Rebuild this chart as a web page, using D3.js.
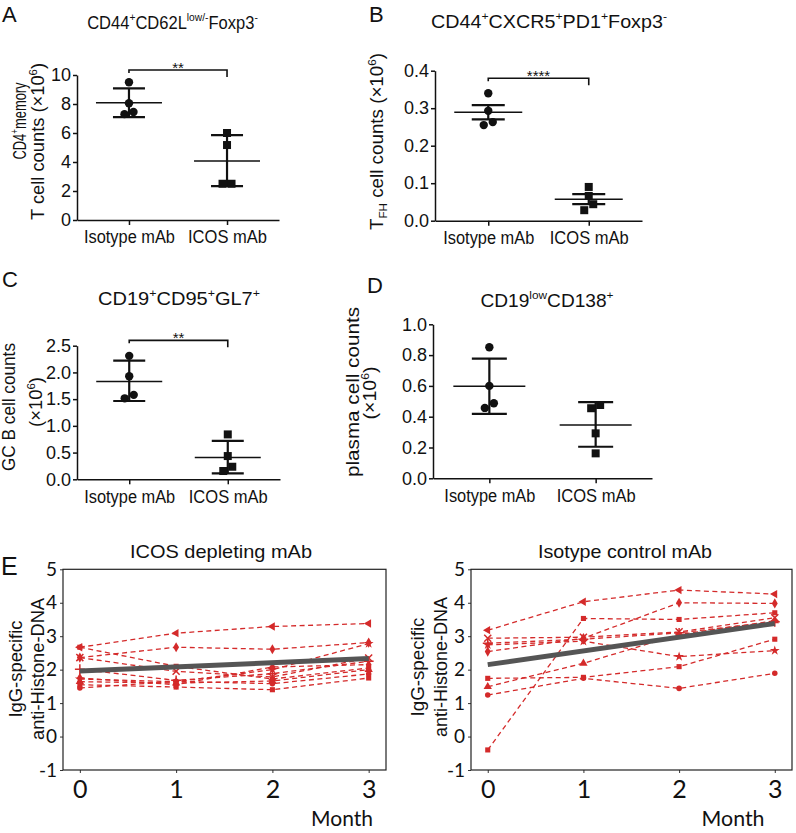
<!DOCTYPE html>
<html><head><meta charset="utf-8">
<script src="https://cdn.jsdelivr.net/npm/d3@7"></script>
<style>html,body{margin:0;padding:0;background:#fff;} svg{display:block;}</style>
</head><body>
<script>
// ---------------- DATA ----------------
const groups = ["Isotype mAb", "ICOS mAb"];

// A: CD44+CD62Llow/-Foxp3- (CD4+ memory T cells, x10^6)
const aIsotype = [9.5, 8.05, 7.3, 7.45];
const aIcos = [6.0, 5.17, 2.5, 2.5];
const aMean = [8.08, 4.07];
const aLow = [7.1, 2.34];
const aHigh = [9.08, 5.86];
const aTicks = [0, 2, 4, 6, 8, 10];

// B: CD44+CXCR5+PD1+Foxp3- (TFH, x10^6)
const bIsotype = [0.340, 0.293, 0.255, 0.263];
const bIcos = [0.090, 0.066, 0.044, 0.028];
const bMean = [0.289, 0.057];
const bLow = [0.270, 0.044];
const bHigh = [0.308, 0.071];
const bTicks = [0, 0.1, 0.2, 0.3, 0.4];

// C: CD19+CD95+GL7+ (GC B cells, x10^6)
const cIsotype = [2.31, 1.93, 1.515, 1.58];
const cIcos = [0.84, 0.435, 0.235, 0.155];
const cMean = [1.83, 0.41];
const cLow = [1.465, 0.11];
const cHigh = [2.22, 0.72];
const cTicks = [0, 0.5, 1.0, 1.5, 2.0, 2.5];

// D: CD19lowCD138+ (plasma cells, x10^6)
const dIsotype = [0.851, 0.60, 0.457, 0.487];
const dIcos = [0.476, 0.455, 0.292, 0.162];
const dMean = [0.597, 0.346];
const dLow = [0.418, 0.205];
const dHigh = [0.777, 0.495];
const dTicks = [0, 0.2, 0.4, 0.6, 0.8, 1.0];

const significance = ["**", "****", "**", ""];
const sigLevel = [10.35, 0.38, 2.6, null];

// E: IgG-specific anti-Histone-DNA over months
const months = [0, 1, 2, 3];
const eTicks = [-1, 0, 1, 2, 3, 4, 5];
const icosDepleting = [
  [2.67, 3.09, 3.29, 3.38],
  [2.36, 2.67, 2.61, 2.81],
  [2.67, 2.10, 1.72, 2.05],
  [2.36, 1.95, 1.78, 2.35],
  [2.01, 1.68, 1.88, 2.25],
  [1.72, 1.64, 2.00, 2.78],
  [1.64, 1.60, 1.66, 2.00],
  [1.55, 1.48, 1.40, 1.75],
  [1.45, 1.65, 1.58, 1.87],
  [1.75, 1.55, 2.08, 2.15]
];
const isotypeControl = [
  [3.18, 4.03, 4.38, 4.26],
  [2.54, 2.94, 4.00, 3.98],
  [-0.40, 3.53, 3.50, 3.70],
  [2.94, 2.97, 3.13, 3.55],
  [2.79, 2.91, 3.10, 3.43],
  [2.74, 2.85, 2.39, 2.57],
  [1.49, 2.19, 3.05, 3.46],
  [1.74, 1.77, 2.09, 2.91],
  [1.24, 1.74, 1.44, 1.89]
];
const trendMonths = [0, 3];
const icosTrend = [1.96, 2.33];
const isotypeTrend = [2.15, 3.38];

// ---------------- DRAWING ----------------
const FONT = "Liberation Sans, Arial, sans-serif";
const EFONT = "Lato, Open Sans, sans-serif";
const INK = "#111";
const RED = "#d42a2a";

const svg = d3.select("body").append("svg").attr("width", 796).attr("height", 833);

function richText(parent, parts, fs) {
  const t = parent.append("text").attr("font-size", fs);
  let shift = 0;
  for (const p of parts) {
    const [s, k] = Array.isArray(p) ? p : [p, null];
    const target = k === "sup" ? -0.4 * fs : (k === "sub" ? 0.22 * fs : 0);
    t.append("tspan").attr("dy", target - shift).attr("font-size", k ? fs * 0.62 : fs).text(s);
    shift = target;
  }
  return t;
}

function label(x, y, parts, opt) {
  let tr = `translate(${x},${y})`;
  if (opt.rotate) tr += " rotate(-90)";
  if (opt.sx) tr += ` scale(${opt.sx},1)`;
  const g = svg.append("g").attr("transform", tr).attr("font-family", opt.family || FONT);
  const t = richText(g, typeof parts === "string" ? [parts] : parts, opt.fs);
  t.attr("text-anchor", opt.anchor || "middle").attr("fill", INK);
  if (opt.len) t.attr("textLength", opt.len).attr("lengthAdjust", "spacingAndGlyphs");
  return t;
}

function offsets(vals, y, gap, half) {
  const idx = vals.map((v, i) => i).sort((a, b) => vals[a] - vals[b]);
  const off = new Array(vals.length).fill(0);
  let cluster = [idx[0]];
  const flush = () => {
    const n = cluster.length;
    cluster.forEach((i, k) => { off[i] = n > 1 ? (k - (n - 1) / 2) * 2 * half : 0; });
  };
  for (let k = 1; k < idx.length; k++) {
    const prev = idx[k - 1], cur = idx[k];
    if (Math.abs(y(vals[cur]) - y(vals[prev])) < gap) cluster.push(cur);
    else { flush(); cluster = [cur]; }
  }
  flush();
  return off;
}

function scatterPanel(p) {
  const y = d3.scaleLinear().domain(p.domain).range([p.bottom, p.top]);
  const x = d3.scalePoint().domain(groups).range([p.left, p.right]).padding(0.53);
  const g = svg.append("g");
  const ya = g.append("g").attr("transform", `translate(${p.left},0)`)
    .call(d3.axisLeft(y).tickValues(p.ticks).tickFormat(p.fmt).tickSize(4).tickSizeOuter(0).tickPadding(2));
  const xa = g.append("g").attr("transform", `translate(0,${p.bottom})`)
    .call(d3.axisBottom(x).tickSize(5).tickSizeOuter(0).tickPadding(6));
  [ya, xa].forEach(a => {
    a.select(".domain").attr("stroke", INK).attr("stroke-width", 1.5);
    a.selectAll(".tick line").attr("stroke", INK).attr("stroke-width", 1.5);
    a.selectAll(".tick text").attr("font-family", FONT).attr("fill", INK);
  });
  ya.selectAll(".tick text").attr("font-size", 18);
  xa.selectAll(".tick text").attr("font-size", 17.5)
    .attr("textLength", d => d === groups[0] ? 91 : 79).attr("lengthAdjust", "spacingAndGlyphs");

  const series = [p.iso, p.icos];
  groups.forEach((gn, i) => {
    const cx = x(gn);
    g.append("line").attr("x1", cx - p.meanHalf).attr("x2", cx + p.meanHalf)
      .attr("y1", y(p.mean[i])).attr("y2", y(p.mean[i])).attr("stroke", INK).attr("stroke-width", 1.5);
    g.append("line").attr("x1", cx).attr("x2", cx).attr("y1", y(p.low[i])).attr("y2", y(p.high[i]))
      .attr("stroke", INK).attr("stroke-width", 2.2);
    [p.low[i], p.high[i]].forEach(v => {
      g.append("line").attr("x1", cx - p.capHalf).attr("x2", cx + p.capHalf)
        .attr("y1", y(v)).attr("y2", y(v)).attr("stroke", INK).attr("stroke-width", 2.2);
    });
    const vals = series[i];
    const off = offsets(vals, y, 8, 4.5);
    vals.forEach((v, j) => {
      if (i === 0) {
        g.append("circle").attr("cx", cx + off[j]).attr("cy", y(v)).attr("r", 4.2).attr("fill", INK);
      } else {
        g.append("rect").attr("x", cx + off[j] - 4).attr("y", y(v) - 4).attr("width", 8).attr("height", 8).attr("fill", INK);
      }
    });
  });

  if (p.sig) {
    const by = y(p.sigLevel);
    const x1 = x(groups[0]), x2 = x(groups[1]);
    g.append("path").attr("d", `M${x1},${by + 3}V${by}H${x2}V${by + 7}`)
      .attr("fill", "none").attr("stroke", INK).attr("stroke-width", 1.6);
    g.append("text").attr("x", (x1 + x2) / 2).attr("y", by + 3).attr("text-anchor", "middle")
      .attr("font-family", FONT).attr("font-size", 15).attr("fill", INK).text(p.sig);
  }
}

scatterPanel({ left: 77, right: 279, top: 75, bottom: 220, domain: [0, 10], ticks: aTicks, fmt: d3.format("d"),
  iso: aIsotype, icos: aIcos, mean: aMean, low: aLow, high: aHigh, sig: significance[0], sigLevel: sigLevel[0],
  meanHalf: 33, capHalf: 16 });
scatterPanel({ left: 435, right: 642, top: 70.7, bottom: 220.7, domain: [0, 0.4], ticks: bTicks, fmt: d3.format(".1f"),
  iso: bIsotype, icos: bIcos, mean: bMean, low: bLow, high: bHigh, sig: significance[1], sigLevel: sigLevel[1],
  meanHalf: 34, capHalf: 16.5 });
scatterPanel({ left: 77, right: 280, top: 345.7, bottom: 479.3, domain: [0, 2.5], ticks: cTicks, fmt: d3.format(".1f"),
  iso: cIsotype, icos: cIcos, mean: cMean, low: cLow, high: cHigh, sig: significance[2], sigLevel: sigLevel[2],
  meanHalf: 33, capHalf: 16 });
scatterPanel({ left: 433, right: 652, top: 324.3, bottom: 478.3, domain: [0, 1.0], ticks: dTicks, fmt: d3.format(".1f"),
  iso: dIsotype, icos: dIcos, mean: dMean, low: dLow, high: dHigh, sig: significance[3], sigLevel: sigLevel[3],
  meanHalf: 36, capHalf: 17.5 });

// titles
label(172.5, 29, ["CD44", ["+", "sup"], "CD62L", ["low/-", "sup"], "Foxp3", ["-", "sup"]], { fs: 19, sx: 0.87 });
label(549, 28, ["CD44", ["+", "sup"], "CXCR5", ["+", "sup"], "PD1", ["+", "sup"], "Foxp3", ["-", "sup"]], { fs: 19, len: 236 });
label(179, 305, ["CD19", ["+", "sup"], "CD95", ["+", "sup"], "GL7", ["+", "sup"]], { fs: 19, len: 162 });
label(547, 307, ["CD19", ["low", "sup"], "CD138", ["+", "sup"]], { fs: 19, len: 133 });

// y labels
label(26, 121, ["CD4", ["+", "sup"], "memory"], { fs: 19, rotate: true, sx: 0.68 });
label(44, 141.5, ["T cell counts (×10", ["6", "sup"], ")"], { fs: 18, rotate: true, len: 157 });
label(383, 141.5, ["T", ["FH", "sub"], " cell counts (×10", ["6", "sup"], ")"], { fs: 18, rotate: true, len: 177 });
label(15, 407, "GC B cell counts", { fs: 18, rotate: true, len: 128 });
label(42, 402, ["(×10", ["6", "sup"], ")"], { fs: 18, rotate: true, len: 50 });
label(359, 392, "plasma cell counts", { fs: 18, rotate: true, len: 170 });
label(376, 393, ["(×10", ["6", "sup"], ")"], { fs: 18, rotate: true, len: 53 });

// panel letters
label(2, 22, "A", { fs: 22, anchor: "start" });
label(369, 22, "B", { fs: 22, anchor: "start" });
label(2, 287, "C", { fs: 22, anchor: "start" });
label(367, 293, "D", { fs: 22, anchor: "start" });
label(1, 575, "E", { fs: 25, anchor: "start" });

// ---------- Panel E ----------
const markerStyles = ["triLeft", "diamond", "square", "times", "plus", "star", "triangle", "square", "circle", "diamond"];
function markerPath(type) {
  const T = d3.symbolTimes || d3.symbolCross, P = d3.symbolPlus || d3.symbolCross;
  switch (type) {
    case "triLeft": case "triangle": return d3.symbol(d3.symbolTriangle, 30)();
    case "diamond": return d3.symbol(d3.symbolDiamond, 30)();
    case "square": return d3.symbol(d3.symbolSquare, 26)();
    case "times": return d3.symbol(T, 34)();
    case "plus": return d3.symbol(P, 34)();
    case "star": return d3.symbol(d3.symbolStar, 30)();
    default: return d3.symbol(d3.symbolCircle, 24)();
  }
}
const strokeMarkers = new Set(["times", "plus"]);

function linePanel(p, lines, trend) {
  const x = d3.scaleLinear().domain([-0.175, 3.18]).range([p.left, p.right]);
  const y = d3.scaleLinear().domain([-1, 5]).range([p.bottom, p.top]);
  const g = svg.append("g");
  const ya = g.append("g").attr("transform", `translate(${p.left},0)`)
    .call(d3.axisLeft(y).tickValues(eTicks).tickFormat(d => String(d)).tickSize(3).tickSizeOuter(0).tickPadding(3));
  const xa = g.append("g").attr("transform", `translate(0,${p.bottom})`)
    .call(d3.axisBottom(x).tickValues(months).tickFormat(d => String(d)).tickSize(3).tickSizeOuter(0).tickPadding(7));
  ya.selectAll(".tick text").attr("font-family", EFONT).attr("font-size", 19).attr("fill", INK);
  xa.selectAll(".tick text").attr("font-family", EFONT).attr("font-size", 25).attr("fill", INK);
  [ya, xa].forEach(a => { a.select(".domain").remove(); a.selectAll(".tick line").attr("stroke", "#333"); });
  g.append("rect").attr("x", p.left).attr("y", p.top).attr("width", p.right - p.left).attr("height", p.bottom - p.top)
    .attr("fill", "none").attr("stroke", "#222").attr("stroke-width", 1.2);

  const line = d3.line().x((d, i) => x(months[i])).y(d => y(d));
  lines.forEach((vals, k) => {
    g.append("path").attr("d", line(vals)).attr("fill", "none").attr("stroke", RED)
      .attr("stroke-width", 1.3).attr("stroke-dasharray", "5,3.5");
    const type = markerStyles[k % markerStyles.length];
    vals.forEach((v, i) => {
      const m = g.append("path").attr("d", markerPath(type))
        .attr("transform", `translate(${x(months[i])},${y(v)})` + (type === "triLeft" ? " rotate(-90)" : ""));
      if (strokeMarkers.has(type)) m.attr("fill", "none").attr("stroke", RED).attr("stroke-width", 1.5);
      else m.attr("fill", RED);
    });
  });
  g.append("line").attr("x1", x(trendMonths[0])).attr("x2", x(trendMonths[1]))
    .attr("y1", y(trend[0])).attr("y2", y(trend[1])).attr("stroke", "#555").attr("stroke-width", 5);
}

linePanel({ left: 63, right: 386, top: 569.3, bottom: 770 }, icosDepleting, icosTrend);
linePanel({ left: 471, right: 792, top: 569.3, bottom: 770 }, isotypeControl, isotypeTrend);

label(221, 558, "ICOS  depleting mAb", { fs: 19, len: 182 });
label(625, 558, "Isotype  control mAb", { fs: 19, len: 174 });
label(22, 669, "IgG-specific", { fs: 17.5, rotate: true, len: 97 });
label(44, 669, "anti-Histone-DNA", { fs: 17.5, rotate: true, len: 142 });
label(424, 667, "IgG-specific", { fs: 17.5, rotate: true, len: 99 });
label(447, 667, "anti-Histone-DNA", { fs: 17.5, rotate: true, len: 140 });
label(342, 826, "Month", { fs: 21, family: EFONT, len: 62 });
label(733, 826, "Month", { fs: 21, family: EFONT, len: 63 });
</script>
</body></html>
